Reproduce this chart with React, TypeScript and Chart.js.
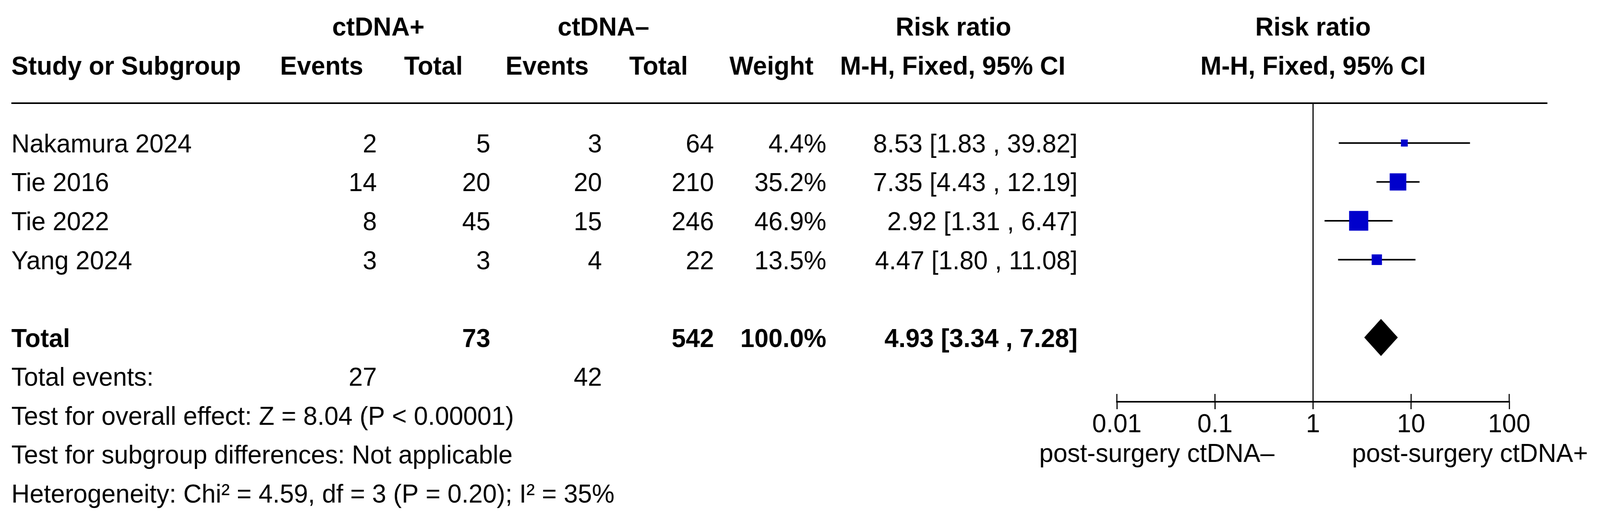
import React, { useEffect, useRef } from 'react';
import { Chart, registerables } from 'chart.js';

Chart.register(...registerables);

// ---------- data ----------
const STUDIES = ['Nakamura 2024', 'Tie 2016', 'Tie 2022', 'Yang 2024'];
const POS_EVENTS = [2, 14, 8, 3];
const POS_TOTAL = [5, 20, 45, 3];
const NEG_EVENTS = [3, 20, 15, 4];
const NEG_TOTAL = [64, 210, 246, 22];
const WEIGHTS = [4.4, 35.2, 46.9, 13.5];
const RR = [8.53, 7.35, 2.92, 4.47];
const RR_LO = [1.83, 4.43, 1.31, 1.8];
const RR_HI = [39.82, 12.19, 6.47, 11.08];

const TOTAL_POS = 73;
const TOTAL_NEG = 542;
const TOTAL_WEIGHT = 100.0;
const POOLED_RR = 4.93;
const POOLED_LO = 3.34;
const POOLED_HI = 7.28;
const TOTAL_EVENTS_POS = 27;
const TOTAL_EVENTS_NEG = 42;

const X_TICKS = [0.01, 0.1, 1, 10, 100];
const X_TICK_LABELS = ['0.01', '0.1', '1', '10', '100'];

const FOOTER_LINES = [
  'Test for overall effect: Z = 8.04 (P < 0.00001)',
  'Test for subgroup differences: Not applicable',
  'Heterogeneity: Chi\u00B2 = 4.59, df = 3 (P = 0.20); I\u00B2 = 35%',
];
const AXIS_LEFT_LABEL = 'post-surgery ctDNA\u2013';
const AXIS_RIGHT_LABEL = 'post-surgery ctDNA+';

// ---------- layout ----------
const W = 4229;
const H = 1328;
const FONT_SIZE = 67;
const FAMILY = '"Liberation Sans", Arial, Helvetica, sans-serif';
const BASE_OFF = Math.round(FONT_SIZE * 0.358);

const ROW_HEAD1 = -3;
const ROW_HEAD2 = -2;
const ROW_TOTAL = 5;
const ROW_EVENTS = 6;
const ROW_FOOTER = 7;
const Y_MIN = -1.025;
const Y_MAX = 6.653;

const X_STUDY = 30;
const X_POS_EV = 996;
const X_POS_TOT = 1296;
const X_NEG_EV = 1591;
const X_NEG_TOT = 1887;
const X_WEIGHT = 2184;
const X_CI = 2848;
const XH_POS_EV = 960;
const XH_POS_TOT = 1223;
const XH_NEG_EV = 1556;
const XH_NEG_TOT = 1818;
const XH_WEIGHT = 2150;
const XH_CI_CENTER = 2518;
const XG_POS = 1000;
const XG_NEG = 1595;
const XG_RR = 2520;
const RULE_RIGHT = 4090;

const SQUARE_K = 7.4;
const SQUARE_MIN = 18;
const DIAMOND_HALF = 0.472;

const fmtCI = (r: number, l: number, h: number) =>
  `${r.toFixed(2)} [${l.toFixed(2)} , ${h.toFixed(2)}]`;

const tablePlugin = {
  id: 'forestTable',
  afterDraw(chart: any) {
    const ctx = chart.ctx as CanvasRenderingContext2D;
    const ys = chart.scales.y;
    const xs = chart.scales.x;
    const yOf = (row: number) => ys.getPixelForValue(row) + BASE_OFF;
    const put = (s: string, x: number, row: number, align: CanvasTextAlign, bold = false) => {
      ctx.font = `${bold ? 'bold ' : ''}${FONT_SIZE}px ${FAMILY}`;
      ctx.textAlign = align;
      ctx.fillText(s, x, yOf(row));
    };
    ctx.save();
    ctx.fillStyle = '#000';
    ctx.textBaseline = 'alphabetic';

    const xOne = xs.getPixelForValue(1);

    // column headers
    put('ctDNA+', XG_POS, ROW_HEAD1, 'center', true);
    put('ctDNA\u2013', XG_NEG, ROW_HEAD1, 'center', true);
    put('Risk ratio', XG_RR, ROW_HEAD1, 'center', true);
    put('Risk ratio', xOne, ROW_HEAD1, 'center', true);
    put('Study or Subgroup', X_STUDY, ROW_HEAD2, 'left', true);
    put('Events', XH_POS_EV, ROW_HEAD2, 'right', true);
    put('Total', XH_POS_TOT, ROW_HEAD2, 'right', true);
    put('Events', XH_NEG_EV, ROW_HEAD2, 'right', true);
    put('Total', XH_NEG_TOT, ROW_HEAD2, 'right', true);
    put('Weight', XH_WEIGHT, ROW_HEAD2, 'right', true);
    put('M-H, Fixed, 95% CI', XH_CI_CENTER, ROW_HEAD2, 'center', true);
    put('M-H, Fixed, 95% CI', xOne, ROW_HEAD2, 'center', true);

    // study rows
    STUDIES.forEach((s, i) => {
      put(s, X_STUDY, i, 'left');
      put(String(POS_EVENTS[i]), X_POS_EV, i, 'right');
      put(String(POS_TOTAL[i]), X_POS_TOT, i, 'right');
      put(String(NEG_EVENTS[i]), X_NEG_EV, i, 'right');
      put(String(NEG_TOTAL[i]), X_NEG_TOT, i, 'right');
      put(`${WEIGHTS[i].toFixed(1)}%`, X_WEIGHT, i, 'right');
      put(fmtCI(RR[i], RR_LO[i], RR_HI[i]), X_CI, i, 'right');
    });

    // totals
    put('Total', X_STUDY, ROW_TOTAL, 'left', true);
    put(String(TOTAL_POS), X_POS_TOT, ROW_TOTAL, 'right', true);
    put(String(TOTAL_NEG), X_NEG_TOT, ROW_TOTAL, 'right', true);
    put(`${TOTAL_WEIGHT.toFixed(1)}%`, X_WEIGHT, ROW_TOTAL, 'right', true);
    put(fmtCI(POOLED_RR, POOLED_LO, POOLED_HI), X_CI, ROW_TOTAL, 'right', true);

    put('Total events:', X_STUDY, ROW_EVENTS, 'left');
    put(String(TOTAL_EVENTS_POS), X_POS_EV, ROW_EVENTS, 'right');
    put(String(TOTAL_EVENTS_NEG), X_NEG_EV, ROW_EVENTS, 'right');

    FOOTER_LINES.forEach((s, i) => put(s, X_STUDY, ROW_FOOTER + i, 'left'));

    // rule under the header
    ctx.strokeStyle = '#000';
    ctx.lineWidth = 4;
    ctx.beginPath();
    ctx.moveTo(X_STUDY, ys.top);
    ctx.lineTo(RULE_RIGHT, ys.top);
    ctx.stroke();

    // upper half of the axis ticks (ticks cross the axis line)
    ctx.lineWidth = 3;
    X_TICKS.forEach((v) => {
      const x = xs.getPixelForValue(v);
      ctx.beginPath();
      ctx.moveTo(x, xs.top - 20);
      ctx.lineTo(x, xs.top);
      ctx.stroke();
    });

    // favours labels
    ctx.font = `${FONT_SIZE}px ${FAMILY}`;
    const yLab = xs.top + 130 + BASE_OFF;
    ctx.textAlign = 'right';
    ctx.fillText(AXIS_LEFT_LABEL, xOne - 102, yLab);
    ctx.textAlign = 'left';
    ctx.fillText(AXIS_RIGHT_LABEL, xOne + 103, yLab);
    ctx.restore();
  },
};

export default function App() {
  const ref = useRef<HTMLCanvasElement>(null);
  const vw = typeof window !== 'undefined' && window.innerWidth ? window.innerWidth : W;
  const vh = typeof window !== 'undefined' && window.innerHeight ? window.innerHeight : H;
  useEffect(() => {
    if (!ref.current) return;
    const ciSets = STUDIES.map((s, i) => ({
      label: `${s} CI`,
      data: [
        { x: RR_LO[i], y: i },
        { x: RR_HI[i], y: i },
      ],
      showLine: true,
      borderColor: '#000',
      borderWidth: 4,
      pointRadius: 0,
      order: 2,
    }));
    const chart = new Chart(ref.current, {
      type: 'scatter',
      data: {
        datasets: [
          {
            label: 'Studies',
            data: RR.map((r, i) => ({ x: r, y: i })),
            pointStyle: 'rect',
            pointRadius: WEIGHTS.map((w) => Math.max(SQUARE_MIN, SQUARE_K * Math.sqrt(w)) / Math.SQRT2),
            backgroundColor: '#0000CC',
            borderWidth: 0,
            order: 0,
          } as any,
          ...ciSets,
          {
            label: 'Total',
            data: [
              { x: POOLED_LO, y: ROW_TOTAL },
              { x: POOLED_RR, y: ROW_TOTAL - DIAMOND_HALF },
              { x: POOLED_HI, y: ROW_TOTAL },
              { x: POOLED_RR, y: ROW_TOTAL + DIAMOND_HALF },
              { x: POOLED_LO, y: ROW_TOTAL },
            ],
            showLine: true,
            fill: 'shape',
            backgroundColor: '#000',
            borderColor: '#000',
            borderWidth: 1,
            pointRadius: 0,
            order: 1,
          } as any,
          {
            label: 'No effect',
            data: [
              { x: 1, y: Y_MIN },
              { x: 1, y: Y_MAX },
            ],
            showLine: true,
            borderColor: '#000',
            borderWidth: 3,
            pointRadius: 0,
            order: 3,
          },
        ],
      },
      options: {
        animation: false,
        responsive: false,
        maintainAspectRatio: false,
        devicePixelRatio: 1,
        events: [],
        layout: { padding: { left: 2952, right: 240, top: 264, bottom: 200 } },
        plugins: { legend: { display: false }, tooltip: { enabled: false } },
        scales: {
          x: {
            type: 'logarithmic',
            position: 'bottom',
            min: 0.01,
            max: 100,
            afterBuildTicks: (scale: any) => {
              scale.ticks = X_TICKS.map((v) => ({ value: v }));
            },
            afterFit: (scale: any) => {
              scale.height = 100;
            },
            ticks: {
              autoSkip: false,
              maxRotation: 0,
              padding: 0,
              color: '#000',
              font: { family: FAMILY, size: FONT_SIZE },
              callback: (_v: any, i: number) => X_TICK_LABELS[i],
            },
            grid: {
              display: true,
              drawOnChartArea: false,
              drawTicks: true,
              tickLength: 19,
              tickWidth: 3,
              tickColor: '#000',
              color: '#000',
              lineWidth: 3,
            },
            border: { display: true, color: '#000', width: 4 },
          },
          y: {
            type: 'linear',
            display: false,
            reverse: true,
            min: Y_MIN,
            max: Y_MAX,
          },
        },
      } as any,
      plugins: [tablePlugin],
    });
    return () => chart.destroy();
  }, []);
  // The browser viewport may be narrower than the 4229px design; the canvas keeps
  // its 4229x1328 drawing buffer and is displayed fitted to the viewport.
  return (
    <div
      style={{
        position: 'absolute',
        left: 0,
        top: 0,
        width: vw,
        height: vh,
        overflow: 'hidden',
        background: '#fff',
      }}
    >
      <canvas ref={ref} width={W} height={H} style={{ width: vw, height: vh, display: 'block' }} />
    </div>
  );
}
